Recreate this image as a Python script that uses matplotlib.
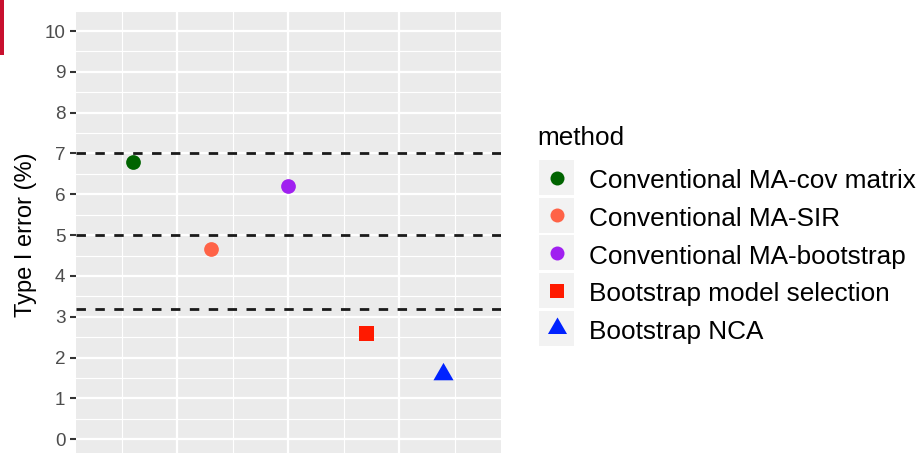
import matplotlib
matplotlib.use("Agg")
import matplotlib.pyplot as plt
from matplotlib.patches import Rectangle
from matplotlib.path import Path
import numpy as np

plt.rcParams['font.family'] = ['Liberation Sans', 'DejaVu Sans']

# Type I error (%) per method
methods = ["Conventional MA-cov matrix", "Conventional MA-SIR",
           "Conventional MA-bootstrap", "Bootstrap model selection",
           "Bootstrap NCA"]
type1_error = [6.8, 4.65, 6.2, 2.6, 1.6]
reference_levels = [7.0, 5.0, 3.2]
y_ticks = [0, 1, 2, 3, 4, 5, 6, 7, 8, 9, 10]

colors = ["#006400", "#FF6347", "#A020F0", "#FF1A00", "#0022FF"]

# triangle with its circumcentre on the data point (R-style pch 17)
tri = Path([(0, 1), (0.866, -0.5), (-0.866, -0.5), (0, 1)],
           [Path.MOVETO, Path.LINETO, Path.LINETO, Path.CLOSEPOLY])
markers = ["o", "o", "o", "s", tri]
msizes = [10.6, 10.6, 10.6, 10.8, 16.7]

W, H, DPI = 924, 453, 100
fig = plt.figure(figsize=(W / DPI, H / DPI), dpi=DPI)

# panel placement in pixels (panel runs past the bottom edge)
px_l, px_r, px_t, px_b = 76, 500.7, 10.6, 459.7
ax = fig.add_axes([px_l / W, (H - px_b) / H, (px_r - px_l) / W, (px_b - px_t) / H])
ax.set_facecolor("#EBEBEB")
for s in ax.spines.values():
    s.set_visible(False)

x = np.arange(1, len(methods) + 1)
ax.set_xlim(0.261, 5.741)
ax.set_ylim(-0.5, 10.5)

# grid
step = 1.432
ax.set_xticks([3 - step, 3, 3 + step])
ax.set_xticks([3 - 1.5 * step, 3 - 0.5 * step, 3 + 0.5 * step, 3 + 1.5 * step], minor=True)
ax.set_yticks(y_ticks)
ax.set_yticks(np.arange(-0.5, 10.6, 1.0), minor=True)
ax.grid(which="major", color="white", linewidth=1.65)
ax.grid(which="minor", color="white", linewidth=0.85)
ax.set_axisbelow(True)

ax.tick_params(axis="x", which="both", length=0, labelbottom=False)
ax.tick_params(axis="y", which="major", length=4.3, width=1.5, color="#333333",
               labelsize=13.6, labelcolor="#4D4D4D", pad=3.3)
ax.tick_params(axis="y", which="minor", length=0)

for lvl in reference_levels:
    ax.axhline(lvl, color="#1A1A1A", linewidth=2.0, linestyle=(0, (3.4, 3.4)), zorder=2)

for xi, yi, c, m, ms in zip(x, type1_error, colors, markers, msizes):
    ax.plot([xi], [yi], linestyle="none", marker=m, markersize=ms,
            color=c, markeredgewidth=0, zorder=3)

ax.set_ylabel("Type I error (%)", fontsize=17, color="black")
ax.yaxis.label.set_va("center")
ax.yaxis.set_label_coords((26 - px_l) / (px_r - px_l), 0.5)

# legend drawn in pixel coordinates
lg = fig.add_axes([0, 0, 1, 1], facecolor="none")
lg.set_xlim(0, W)
lg.set_ylim(H, 0)
lg.axis("off")
lg.text(537, 145, "method", fontsize=18.8, va="baseline", ha="left")
key_top, key_h, key_gap = 160, 35, 2.7
for i, (name, c, m, ms) in enumerate(zip(methods, colors, markers, msizes)):
    top = key_top + i * (key_h + key_gap)
    lg.add_patch(Rectangle((539, top), 35, key_h, facecolor="#F2F2F2", edgecolor="none"))
    cy = top + key_h / 2
    lg.plot([556.5], [cy], linestyle="none", marker=m, markersize=ms * 0.95,
            color=c, markeredgewidth=0)
    lg.text(589, cy + 10.8, name, fontsize=18.8, va="baseline", ha="left")

# red edge strip at the top-left
lg.add_patch(Rectangle((0, 0), 4, 55, facecolor="#C8102E", edgecolor="none"))

fig.savefig("out.png", dpi=DPI)
